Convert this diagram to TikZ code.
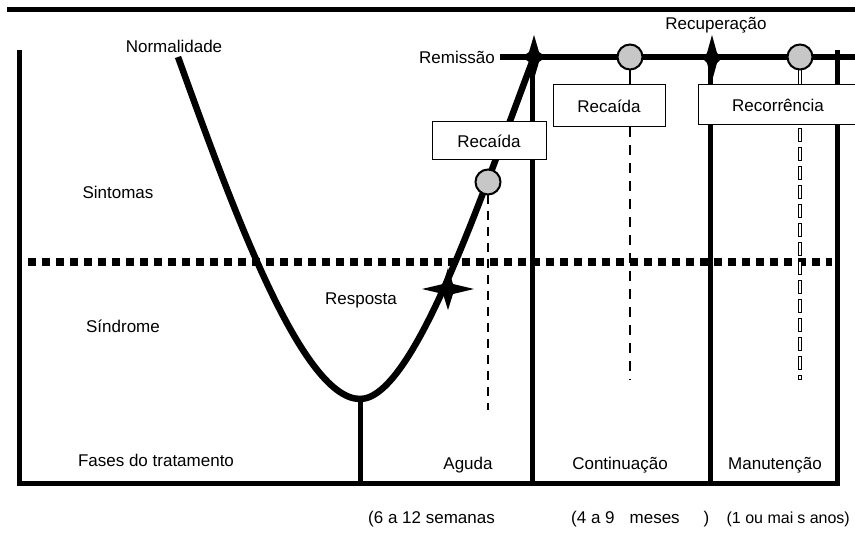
\documentclass[tikz,border=0pt]{standalone}
\usepackage{fontspec}
\setmainfont{Liberation Sans}
\newcommand\fourstar[5]{%
  \fill[shift={(#1,#2)}] (0,-#4) -- (#5,-#5) -- (#3,0) -- (#5,#5) -- (0,#4)
    -- (-#5,#5) -- (-#3,0) -- (-#5,-#5) -- cycle;}
\begin{document}
\begin{tikzpicture}[x=1pt,y=-1pt,
  font=\fontsize{17}{20}\selectfont,
  frameline/.style={line width=5pt},
  curveline/.style={line width=6.5pt},
  lbl/.style={inner sep=0pt, anchor=center},
  boxnode/.style={draw, line width=1pt, fill=white, inner sep=0pt},
  dotnode/.style={circle, draw, line width=2pt, fill=black!22, minimum size=25pt, inner sep=0pt},
  dashv/.style={line width=2.5pt, dash pattern=on 9pt off 7pt}]
\useasboundingbox (0,0) rectangle (855,540);

% top rule
\draw[line width=5pt] (7,10) -- (855,10);
% frame
\draw[frameline, line join=miter] (19,50) -- (19,483) -- (837,483) -- (837,50);
% remission line
\draw[line width=5.5pt] (500,57) -- (855,57);
% phase separators
\draw[frameline] (360,399) -- (360,483);
\draw[frameline] (532,57) -- (532,483);
\draw[frameline] (710,57) -- (710,483);

% dotted threshold
\draw[line width=7.5pt, dash pattern=on 8pt off 6pt] (28,262) -- (832,262);

% dashed verticals
\draw[dashv] (488,195) -- (488,410);
\draw[line width=2.5pt] (630,70) -- (630,85);
\draw[dashv, dash pattern=on 10pt off 8pt] (630,127) -- (630,380);
\draw[double=white, double distance=2pt, line width=1pt] (800,70) -- (800,85);
\draw[double=white, double distance=2pt, line width=1pt, line cap=rect, dash pattern=on 10pt off 9pt] (800,130) -- (800,378);

% curve
\draw[curveline] (178,57) .. controls (228,195) and (300,399) .. (360,399)
  .. controls (415,399) and (485,185) .. (534,57);

% boxes
\node[boxnode, minimum width=114pt, minimum height=38pt] (b1) at (489,141) {Recaída};
\node[boxnode, minimum width=112pt, minimum height=42pt] (b2) at (609,106) {Recaída};
\node[boxnode, minimum width=172pt, minimum height=40pt] (b3) at (784,105) {};
\node[lbl] (t3) at (778,105) {Recorrência};

% circles
\node[dotnode] (c1) at (488,182) {};
\node[dotnode] (c2) at (630,57) {};
\node[dotnode] (c3) at (800,57) {};

% stars
\fourstar{534}{57}{12}{22}{5}
\fourstar{712}{58}{10}{23}{5}
\fourstar{448}{289}{26}{21}{5}

% labels
\node[lbl] (norm) at (174,46) {Normalidade};
\node[lbl] (rem) at (457,57) {Remissão};
\node[lbl] (rec) at (716,25) {Recuperação};
\node[lbl] (sint) at (118,192) {Sintomas};
\node[lbl] (sind) at (123,326) {Síndrome};
\node[lbl] (resp) at (361,300) {Resposta};
\node[lbl] (fases) at (156,460) {Fases do tratamento};
\node[lbl] (agu) at (468,465) {Aguda};
\node[lbl] (cont) at (620,465) {Continuação};
\node[lbl] (man) at (775,465) {Manutenção};
\node[lbl, anchor=west] (d1) at (368,519) {(6 a 12 semanas};
\node[lbl, anchor=west] (d2) at (571,519) {(4 a 9\hspace{15pt}meses\hspace{24pt})};
\node[lbl, anchor=east, font=\fontsize{16}{19}\selectfont] (d3) at (850,519) {(1 ou mai\hspace{4pt}s anos)};
\end{tikzpicture}
\end{document}
